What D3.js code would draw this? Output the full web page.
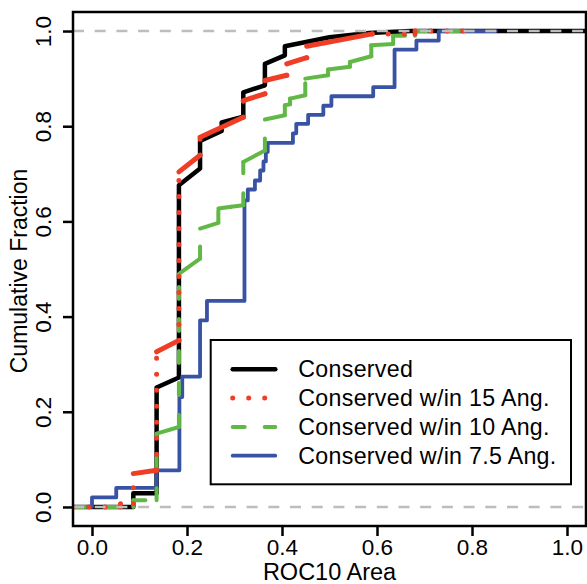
<!DOCTYPE html>
<html>
<head>
<meta charset="utf-8">
<script src="https://cdn.jsdelivr.net/npm/d3@7"></script>
<style>
  body { margin: 0; background: #fff; }
  text { font-family: "Liberation Sans", Arial, Helvetica, sans-serif; fill: #000; }
</style>
</head>
<body>
<svg id="chart"></svg>
<script>
// tick values
const xTicks = [0, 0.2, 0.4, 0.6, 0.8, 1.0];
const yTicks = [0, 0.2, 0.4, 0.6, 0.8, 1.0];
const refLines = [0, 1];

// ecdf outlines: [ROC10 area, cumulative fraction]
const conserved = [[-0.04,0],[0.087,0],[0.087,0.029],[0.136,0.029],[0.136,0.251],[0.183,0.272],[0.183,0.676],[0.2275,0.711],[0.2275,0.769],[0.273,0.79],[0.273,0.808],[0.3185,0.82],[0.3185,0.871],[0.364,0.886],[0.364,0.931],[0.406,0.949],[0.406,0.968],[0.5,0.987],[0.583,0.996],[0.67,1],[1.04,1]];
const within15 = [[-0.04,0],[0.06,0],[0.06,0.007],[0.087,0.007],[0.087,0.07],[0.136,0.077],[0.136,0.326],[0.183,0.35],[0.183,0.704],[0.2275,0.739],[0.2275,0.777],[0.3185,0.819],[0.3185,0.854],[0.364,0.868],[0.364,0.896],[0.41,0.907],[0.41,0.931],[0.452,0.944],[0.452,0.968],[0.59,0.994],[0.68,0.994],[0.68,1],[0.79,1]];
const within10 = [[-0.04,0],[0.087,0],[0.087,0.014],[0.136,0.014],[0.136,0.154],[0.183,0.168],[0.183,0.49],[0.2275,0.522],[0.2275,0.585],[0.266,0.597],[0.266,0.627],[0.293,0.631],[0.3185,0.634],[0.3185,0.725],[0.364,0.749],[0.364,0.814],[0.406,0.823],[0.406,0.844],[0.417,0.846],[0.417,0.858],[0.449,0.865],[0.449,0.9],[0.497,0.907],[0.497,0.919],[0.543,0.925],[0.543,0.935],[0.588,0.947],[0.588,0.97],[0.634,0.973],[0.634,0.99],[0.68,0.99],[0.68,1],[0.78,1]];
const within75 = [[-0.04,0],[0,0],[0,0.02],[0.051,0.02],[0.051,0.04],[0.136,0.04],[0.136,0.077],[0.184,0.077],[0.184,0.231],[0.19,0.231],[0.19,0.274],[0.2275,0.274],[0.2275,0.392],[0.242,0.392],[0.242,0.433],[0.321,0.433],[0.321,0.644],[0.328,0.644],[0.328,0.667],[0.343,0.667],[0.343,0.686],[0.354,0.686],[0.354,0.707],[0.361,0.707],[0.361,0.726],[0.366,0.726],[0.366,0.746],[0.37,0.746],[0.37,0.765],[0.423,0.765],[0.423,0.785],[0.43,0.785],[0.43,0.805],[0.455,0.805],[0.455,0.824],[0.487,0.824],[0.487,0.843],[0.504,0.843],[0.504,0.863],[0.592,0.863],[0.592,0.882],[0.637,0.882],[0.637,0.961],[0.683,0.961],[0.683,0.98],[0.73,0.98],[0.73,1],[0.85,1]];

const seriesNames = ["Conserved", "Conserved w/in 15 Ang.", "Conserved w/in 10 Ang.", "Conserved w/in 7.5 Ang."];

const W = 587, H = 584;
const mLeft = 73, mRight = 586, mTop = 12, mBottom = 526;

const svg = d3.select("#chart").attr("width", W).attr("height", H);

const x = d3.scaleLinear().domain([-0.04, 1.04]).range([mLeft, mRight]);
const y = d3.scaleLinear().domain([-0.04, 1.04]).range([mBottom, mTop]);

const series = [
  { name: seriesNames[0], pts: conserved, color: "#000000", width: 4.5, dash: null },
  { name: seriesNames[1], pts: within15, color: "#ef3d26", width: 5, dash: "0,16" },
  { name: seriesNames[2], pts: within10, color: "#62b846", width: 4, dash: "12,20" },
  { name: seriesNames[3], pts: within75, color: "#3953a4", width: 3.8, dash: null }
];

const line = d3.line().x(d => x(d[0])).y(d => y(d[1]));

svg.append("defs").append("clipPath").attr("id", "clip")
  .append("rect").attr("x", mLeft).attr("y", mTop)
  .attr("width", mRight - mLeft).attr("height", mBottom - mTop);

const plot = svg.append("g").attr("clip-path", "url(#clip)");

// the dash pattern restarts on every step, so the many small steps look solid
const drawSeries = (s) => {
  const g = plot.append("g");
  if (!s.dash) {
    g.append("path")
      .datum(s.pts)
      .attr("d", line)
      .attr("fill", "none")
      .attr("stroke", s.color)
      .attr("stroke-width", s.width)
      .attr("stroke-linejoin", "round")
      .attr("stroke-linecap", "round");
    return;
  }
  g.selectAll("line")
    .data(d3.pairs(s.pts))
    .enter()
    .append("line")
    .attr("x1", d => x(d[0][0]))
    .attr("y1", d => y(d[0][1]))
    .attr("x2", d => x(d[1][0]))
    .attr("y2", d => y(d[1][1]))
    .attr("stroke", s.color)
    .attr("stroke-width", s.width)
    .attr("stroke-linecap", "round")
    .attr("stroke-dasharray", d => (d[0][0] !== d[1][0] && d[0][1] !== d[1][1]) ? null : s.dash);
};

// draw order: black, blue, green, red
[series[0], series[3], series[2], series[1]].forEach(drawSeries);

// grey reference lines at 0 and 1
plot.selectAll(".ref")
  .data(refLines)
  .enter()
  .append("line")
  .attr("class", "ref")
  .attr("x1", mLeft)
  .attr("x2", mRight)
  .attr("y1", d => y(d))
  .attr("y2", d => y(d))
  .attr("stroke", "#bdbdbd")
  .attr("stroke-width", 2.5)
  .attr("stroke-dasharray", "11,10.7");

// box
svg.append("rect")
  .attr("x", mLeft).attr("y", mTop)
  .attr("width", mRight - mLeft).attr("height", mBottom - mTop)
  .attr("fill", "none")
  .attr("stroke", "#000")
  .attr("stroke-width", 2.5);

// axes
const xAxis = svg.append("g")
  .attr("transform", `translate(0,${mBottom})`)
  .call(d3.axisBottom(x).tickValues(xTicks).tickFormat(d3.format(".1f")).tickSize(10).tickPadding(3));
const yAxis = svg.append("g")
  .attr("transform", `translate(${mLeft},0)`)
  .call(d3.axisLeft(y).tickValues(yTicks).tickFormat(d3.format(".1f")).tickSize(10));

[xAxis, yAxis].forEach(a => {
  a.select(".domain").remove();
  a.selectAll(".tick line").attr("stroke", "#000").attr("stroke-width", 2.5);
  a.selectAll("text").attr("font-size", 22.5).attr("fill", "#000")
    .style("font-family", '"Liberation Sans", Arial, sans-serif');
});

yAxis.selectAll("text")
  .attr("x", null)
  .attr("dy", null)
  .attr("text-anchor", "middle")
  .attr("transform", "translate(-22,0) rotate(-90)");

// axis titles
svg.append("text")
  .attr("x", (mLeft + mRight) / 2)
  .attr("y", 580)
  .attr("text-anchor", "middle")
  .attr("font-size", 23.5)
  .text("ROC10 Area");

svg.append("text")
  .attr("transform", `translate(27,${(mTop + mBottom) / 2 + 2}) rotate(-90)`)
  .attr("text-anchor", "middle")
  .attr("font-size", 23)
  .text("Cumulative Fraction");

// legend
const legend = svg.append("g");
legend.append("rect")
  .attr("x", 210.7).attr("y", 340)
  .attr("width", 360.3).attr("height", 144.3)
  .attr("fill", "#fff")
  .attr("stroke", "#000")
  .attr("stroke-width", 2);

const rows = legend.selectAll(".row")
  .data(series)
  .enter()
  .append("g")
  .attr("class", "row")
  .attr("transform", (d, i) => `translate(0,${369.3 + i * 28.8})`);

rows.append("line")
  .attr("x1", 232.7).attr("x2", 275.3)
  .attr("y1", 0).attr("y2", 0)
  .attr("stroke", d => d.color)
  .attr("stroke-width", d => d.width)
  .attr("stroke-linecap", "round")
  .attr("stroke-dasharray", d => d.dash);

rows.append("text")
  .attr("x", 298.3)
  .attr("y", 8)
  .attr("font-size", 23.2)
  .style("letter-spacing", "0.3px")
  .text(d => d.name);
</script>
</body>
</html>
